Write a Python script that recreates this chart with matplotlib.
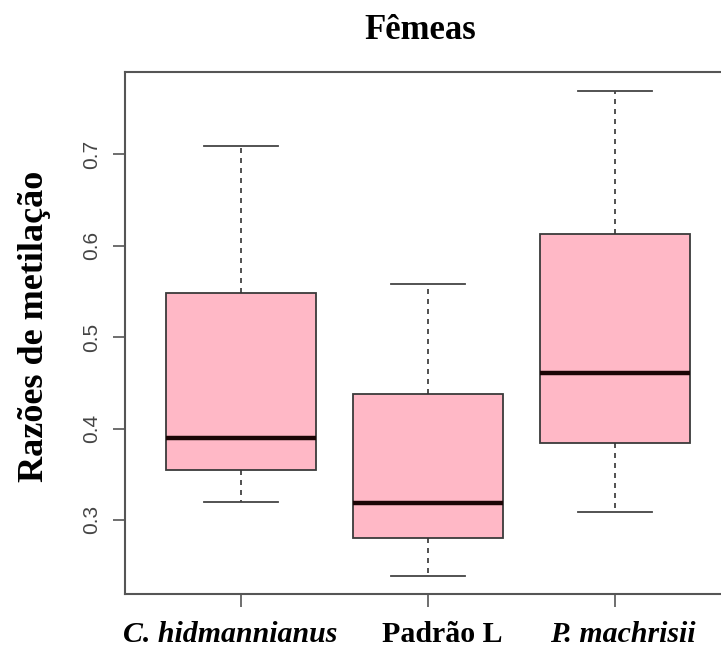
import matplotlib
matplotlib.use("Agg")
import matplotlib.pyplot as plt

# dados (Fêmeas)
grupos = ["C. hidmannianus", "Padrão L", "P. machrisii"]
estilos = ["italic", "normal", "italic"]
pos_rotulo = [0.94, 2.075, 3.04]
whis_lo = [0.320, 0.239, 0.309]
q1 = [0.355, 0.280, 0.384]
mediana = [0.390, 0.319, 0.461]
q3 = [0.548, 0.438, 0.613]
whis_hi = [0.709, 0.558, 0.769]
yticks = [0.3, 0.4, 0.5, 0.6, 0.7]

stats = []
for i, g in enumerate(grupos):
    stats.append({"label": g, "whislo": whis_lo[i], "q1": q1[i], "med": mediana[i],
                  "q3": q3[i], "whishi": whis_hi[i], "fliers": []})

fig = plt.figure(figsize=(7.21, 6.51), dpi=100)
ax = fig.add_axes([0.1734, 0.0876, 0.8405, 0.8018])

ax.bxp(stats, positions=[1, 2, 3], widths=0.8, capwidths=0.4,
       patch_artist=True, showfliers=False,
       boxprops=dict(facecolor="#ffb8c6", edgecolor="#3a3a3a", linewidth=1.3),
       medianprops=dict(color="#1a0505", linewidth=3.2, solid_capstyle="butt"),
       whiskerprops=dict(color="#333333", linewidth=1.2, linestyle=(0, (3, 3))),
       capprops=dict(color="#444444", linewidth=1.3))

ax.set_xlim(0.38, 3.62)
ax.set_ylim(0.219, 0.790)

for s in ax.spines.values():
    s.set_color("#555555")
    s.set_linewidth(1.5)

ax.set_yticks(yticks)
ax.set_yticklabels([str(v) for v in yticks], family="Liberation Sans",
                   fontsize=15, color="#444444", rotation=90, va="center")
ax.tick_params(axis="y", length=9, width=1.2, color="#555555", pad=8)
ax.set_xticks([1, 2, 3])
ax.set_xticklabels([])
ax.tick_params(axis="x", length=9, width=1.2, color="#555555")

# rótulos das categorias (linha de base ~ 642 px)
for i, g in enumerate(grupos):
    ax.text(pos_rotulo[i], -(642 - 594) / 522, g, transform=ax.get_xaxis_transform(),
            ha="center", va="baseline", family="Liberation Serif",
            fontweight="bold", style=estilos[i], fontsize=21.5)

ax.set_ylabel("Razões de metilação", family="Liberation Serif",
              fontweight="bold", fontsize=26)
ax.yaxis.set_label_coords(-0.122, 0.513)

fig.text(0.583, 1 - 39 / 651, "Fêmeas", ha="center", va="baseline",
         family="Liberation Serif", fontweight="bold", fontsize=25)

fig.savefig("out.png", dpi=100)
